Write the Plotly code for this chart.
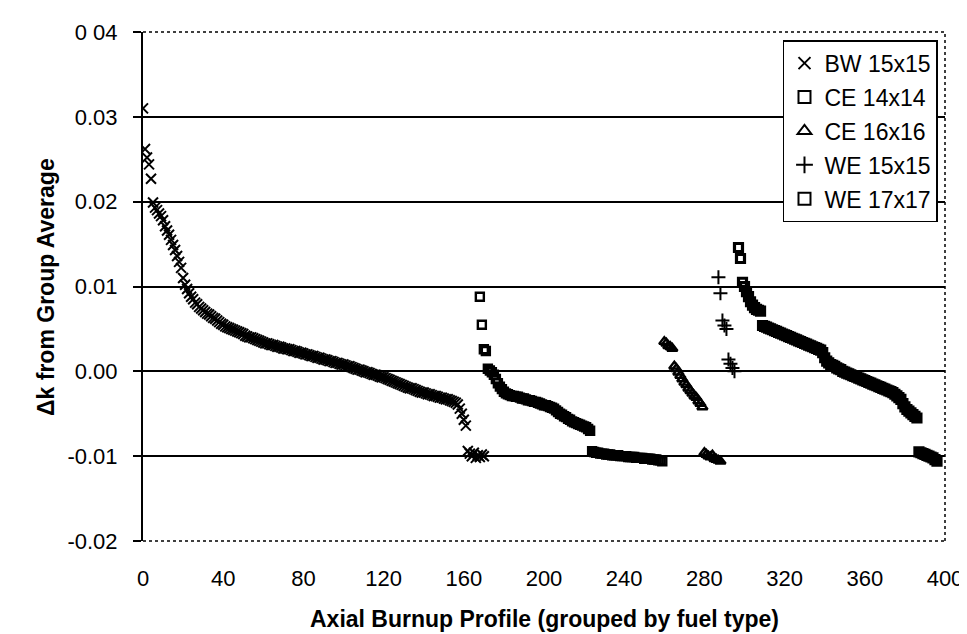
import plotly.graph_objects as go

# ---- data (Δk from group average), profiles numbered consecutively ----
bw_start = 0
bw_dk = [
    0.0310, 0.0262, 0.0252, 0.0244, 0.0227, 0.0199, 0.0193, 0.0190, 0.0186, 0.0183,
    0.0178, 0.0171, 0.0166, 0.0161, 0.0155, 0.0149, 0.0143, 0.0136, 0.0129, 0.0122,
    0.0110, 0.0102, 0.0097, 0.0092, 0.0088, 0.0085, 0.0081, 0.0079, 0.0076, 0.0074,
    0.0072, 0.0070, 0.0068, 0.0067, 0.0065, 0.0063, 0.0062, 0.0060, 0.0058, 0.0056,
    0.0055, 0.0053, 0.0052, 0.0051, 0.0050, 0.0049, 0.0048, 0.0047, 0.0046, 0.0045,
    0.0044, 0.0042, 0.0041, 0.0040, 0.0040, 0.0039, 0.0038, 0.0037, 0.0036, 0.0035,
    0.0034, 0.0033, 0.0033, 0.0032, 0.0031, 0.0031, 0.0030, 0.0029, 0.0029, 0.0028,
    0.0027, 0.0027, 0.0026, 0.0026, 0.0025, 0.0024, 0.0024, 0.0023, 0.0022, 0.0022,
    0.0021, 0.0020, 0.0020, 0.0019, 0.0018, 0.0018, 0.0017, 0.0016, 0.0016, 0.0015,
    0.0014, 0.0014, 0.0013, 0.0012, 0.0012, 0.0011, 0.0010, 0.0010, 0.0009, 0.0008,
    0.0008, 0.0007, 0.0006, 0.0006, 0.0005, 0.0004, 0.0003, 0.0002, 0.0002, 0.0001,
    0.0000, -0.0001, -0.0001, -0.0002, -0.0003, -0.0004, -0.0004, -0.0005, -0.0006, -0.0007,
    -0.0007, -0.0008, -0.0009, -0.0010, -0.0011, -0.0012, -0.0013, -0.0014, -0.0015, -0.0016,
    -0.0017, -0.0018, -0.0019, -0.0020, -0.0020, -0.0021, -0.0022, -0.0023, -0.0024, -0.0025,
    -0.0025, -0.0026, -0.0027, -0.0027, -0.0028, -0.0029, -0.0029, -0.0030, -0.0031, -0.0031,
    -0.0032, -0.0033, -0.0033, -0.0034, -0.0035, -0.0036, -0.0037, -0.0039, -0.0044, -0.0050,
    -0.0057, -0.0064,
    -0.0094, -0.0097, -0.0100, -0.0096, -0.0102, -0.0099, -0.0101, -0.0098, -0.0100,
]

ce14_start = 168
ce14_dk = [
    0.0088, 0.0055, 0.0026, 0.0024, 0.0003, 0.0001, -0.0001, -0.0004, -0.0009, -0.0014,
    -0.0018, -0.0021, -0.0024, -0.0026, -0.0027, -0.0028, -0.0029,
    -0.0029, -0.0030, -0.0030, -0.0031, -0.0032, -0.0032, -0.0033, -0.0034, -0.0034, -0.0035,
    -0.0036, -0.0036, -0.0037, -0.0038, -0.0039, -0.0040, -0.0040, -0.0041, -0.0042, -0.0043,
    -0.0044, -0.0046, -0.0048, -0.0050, -0.0051, -0.0053, -0.0054, -0.0056, -0.0057, -0.0059,
    -0.0060, -0.0061, -0.0062, -0.0063, -0.0064, -0.0065, -0.0066, -0.0068, -0.0070,
    -0.0094, -0.0095, -0.0096, -0.0096, -0.0097, -0.0097, -0.0097, -0.0098, -0.0098, -0.0098,
    -0.0099, -0.0099, -0.0099, -0.0099, -0.0100, -0.0100, -0.0100, -0.0100, -0.0101, -0.0101,
    -0.0101, -0.0101, -0.0102, -0.0102, -0.0102, -0.0102, -0.0103, -0.0103, -0.0103, -0.0103,
    -0.0104, -0.0104, -0.0104, -0.0105, -0.0105, -0.0106,
]

ce16_start = 260
ce16_dk = [
    0.0035, 0.0033, 0.0030, 0.0029, 0.0027, 0.0006, 0.0003, -0.0001, -0.0005, -0.0009,
    -0.0013, -0.0016, -0.0020, -0.0023, -0.0026, -0.0029, -0.0031, -0.0035, -0.0038, -0.0042,
    -0.0096, -0.0098, -0.0100, -0.0101, -0.0099, -0.0103, -0.0104, -0.0105, -0.0106,
]

we15_start = 287
we15_dk = [0.0111, 0.0092, 0.0060, 0.0054, 0.0050, 0.0014, 0.0009, 0.0004, 0.0000]

we17_start = 297
we17_dk = [
    0.0146, 0.0133, 0.0105, 0.0100, 0.0094, 0.0088, 0.0082, 0.0078, 0.0075, 0.0073,
    0.0072, 0.0071,
    0.0054, 0.0053, 0.0052, 0.0051, 0.0050, 0.0049, 0.0048, 0.0047, 0.0046, 0.0045,
    0.0044, 0.0043, 0.0042, 0.0041, 0.0040, 0.0039, 0.0038, 0.0037, 0.0036, 0.0035,
    0.0034, 0.0033, 0.0032, 0.0031, 0.0030, 0.0029, 0.0028, 0.0027, 0.0026, 0.0025,
    0.0022, 0.0016, 0.0012, 0.0010, 0.0008, 0.0007, 0.0006, 0.0004, 0.0003, 0.0002,
    0.0000, -0.0001, -0.0002, -0.0003, -0.0004, -0.0005, -0.0006, -0.0007, -0.0008, -0.0009,
    -0.0010, -0.0011, -0.0012, -0.0013, -0.0014, -0.0015, -0.0016, -0.0017, -0.0018, -0.0019,
    -0.0020, -0.0021, -0.0022, -0.0023, -0.0024, -0.0025, -0.0027, -0.0029, -0.0031, -0.0033,
    -0.0038, -0.0042, -0.0045, -0.0047, -0.0049, -0.0051, -0.0053, -0.0055,
    -0.0095, -0.0096, -0.0097, -0.0098, -0.0099, -0.0100, -0.0101, -0.0102, -0.0104, -0.0106,
]

series_names = ["BW 15x15", "CE 14x14", "CE 16x16", "WE 15x15", "WE 17x17"]
x_ticks = [0, 40, 80, 120, 160, 200, 240, 280, 320, 360, 400]
y_ticks = [-0.02, -0.01, 0.00, 0.01, 0.02, 0.03, 0.04]
y_tick_text = ["-0.02", "-0.01", "0.00", "0.01", "0.02", "0.03", "0 04"]
grid_vals = [-0.01, 0.00, 0.01, 0.02, 0.03]

FONT = "Liberation Sans, Arial, sans-serif"

def xs(start, vals):
    return [start + i for i in range(len(vals))]

styles = [
    dict(symbol="x-thin", size=10, line=dict(color="black", width=2)),
    dict(symbol="square-open", size=8, color="black", line=dict(color="black", width=2.4)),
    dict(symbol="triangle-up-open", size=9, color="black", line=dict(color="black", width=2.4)),
    dict(symbol="cross-thin", size=10, line=dict(color="black", width=2)),
    dict(symbol="square-open", size=8, color="black", line=dict(color="black", width=3.2)),
]
data = [(bw_start, bw_dk), (ce14_start, ce14_dk), (ce16_start, ce16_dk),
        (we15_start, we15_dk), (we17_start, we17_dk)]

fig = go.Figure()
for name, (st, vals), sty in zip(series_names, data, styles):
    fig.add_trace(go.Scatter(x=xs(st, vals), y=vals, mode="markers", name=name,
                             legendgroup=name, marker=sty))

fig.update_layout(
    width=967, height=634,
    margin=dict(l=135, r=26, t=20, b=101),
    paper_bgcolor="white", plot_bgcolor="white",
    font=dict(family=FONT, size=22, color="black"),
    showlegend=True,
    legend=dict(x=0.798, y=0.984, xanchor="left", yanchor="top",
                bgcolor="white", bordercolor="black", borderwidth=1.5,
                font=dict(size=23), tracegroupgap=1, itemsizing="constant",
                itemwidth=30),
    xaxis=dict(range=[0, 400], tickvals=x_ticks, showgrid=False, zeroline=False,
               showline=False, ticks="", ticklabelstandoff=22,
               tickfont=dict(size=22)),
    yaxis=dict(range=[-0.02, 0.04], tickvals=y_ticks, ticktext=y_tick_text,
               showgrid=False, zeroline=False, showline=True, linecolor="black",
               linewidth=2, ticks="outside", ticklen=8, tickwidth=1.5,
               tickcolor="black", ticklabelstandoff=11, tickfont=dict(size=22),
               minor=dict(tickvals=grid_vals, showgrid=True, gridcolor="black",
                          gridwidth=1.6, ticks="")),
    shapes=[
        dict(type="line", xref="paper", yref="paper", x0=0, x1=1, y0=1, y1=1,
             line=dict(color="black", width=1.5, dash="dot")),
        dict(type="line", xref="paper", yref="paper", x0=0, x1=1, y0=0, y1=0,
             line=dict(color="black", width=1.5, dash="dot")),
        dict(type="line", xref="paper", yref="paper", x0=1, x1=1, y0=0, y1=1,
             line=dict(color="black", width=1.5, dash="dot")),
    ],
    annotations=[
        dict(text="<b>Axial Burnup Profile (grouped by fuel type)</b>", xref="paper",
             yref="paper", x=0.5, y=-0.153, xanchor="center", yanchor="middle",
             showarrow=False, font=dict(size=23)),
        dict(text="<b>Δk from Group Average</b>", xref="paper", yref="paper",
             x=-0.1216, y=0.5, xanchor="center", yanchor="middle", textangle=-90,
             showarrow=False, font=dict(size=23)),
    ],
)

fig.write_html("out.html")
